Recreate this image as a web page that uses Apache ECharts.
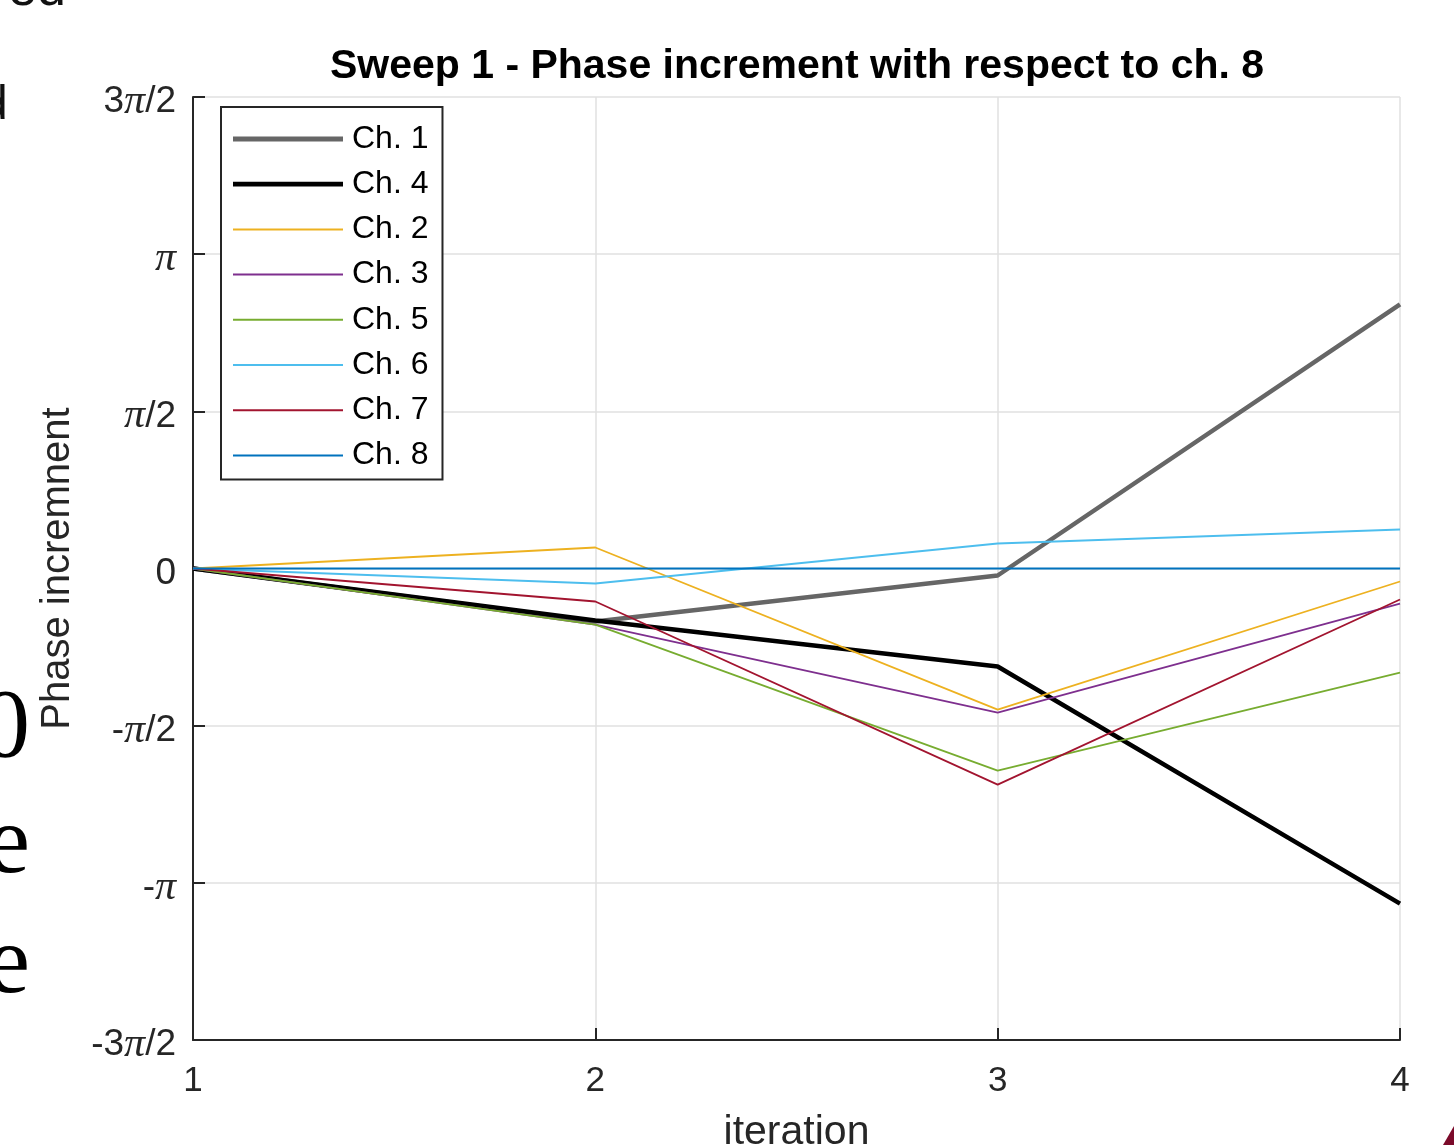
<!DOCTYPE html>
<html>
<head>
<meta charset="utf-8">
<script src="https://cdn.jsdelivr.net/npm/echarts@6/dist/echarts.min.js"></script>
<style>
html,body{margin:0;padding:0;background:#fff;}
#chart{width:1454px;height:1145px;}
</style>
</head>
<body>
<div id="chart"></div>
<script>
// ---- data (phase in radians) ----
const iterations = [1, 2, 3, 4];
const ch1 = [0, -0.53, -0.07, 2.64];
const ch4 = [0, -0.52, -0.98, -3.35];
const ch2 = [0, 0.21, -1.41, -0.13];
const ch3 = [0, -0.56, -1.44, -0.35];
const ch5 = [0, -0.56, -2.02, -1.04];
const ch6 = [0, -0.15, 0.25, 0.39];
const ch7 = [0, -0.33, -2.16, -0.31];
const ch8 = [0, 0, 0, 0];
const yTickLabels = ['-3π/2', '-π', '-π/2', '0', 'π/2', 'π', '3π/2'];
const seriesNames = ['Ch. 1', 'Ch. 4', 'Ch. 2', 'Ch. 3', 'Ch. 5', 'Ch. 6', 'Ch. 7', 'Ch. 8'];
const seriesValues = [ch1, ch4, ch2, ch3, ch5, ch6, ch7, ch8];

// ---- styling ----
const colors = ['#666666', '#000000', '#EDB120', '#7E2F8E', '#77AC30', '#4DBEEE', '#A2142F', '#0072BD'];
const widths = [4.5, 4.5, 1.8, 1.8, 1.8, 1.8, 1.8, 1.8];
const SANS = "'Liberation Sans', Arial, Helvetica, sans-serif";
const SERIF = "'Liberation Serif', 'Times New Roman', serif";
const AX = '#262626';
const GRID = '#e0e0e0';
const HALF_PI = Math.PI / 2;

const thickIcon = 'path://M0,0L0,0M0,9.6H110V14.4H0ZM110,24L110,24';
const thinIcon = 'path://M0,0L0,0M0,11H110V13H0ZM110,24L110,24';

const chart = echarts.init(document.getElementById('chart'), null, {renderer: 'canvas'});

const series = seriesNames.map((name, i) => ({
  name: name,
  type: 'line',
  data: iterations.map((x, k) => [x, seriesValues[i][k] / HALF_PI]),
  symbol: 'none',
  color: colors[i],
  lineStyle: {color: colors[i], width: widths[i]},
  z: 2 + i,
  animation: false
}));

function piLabel(s) {
  return s.replace('π', '{p|π}');
}

chart.setOption({
  animation: false,
  backgroundColor: '#ffffff',
  title: {
    text: 'Sweep 1 - Phase increment with respect to ch. 8',
    left: 797,
    textAlign: 'center',
    top: 46,
    padding: 0,
    textStyle: {fontFamily: SANS, fontWeight: 'bold', fontSize: 41, color: '#000'}
  },
  grid: {left: 193, right: 54, top: 97, bottom: 105, containLabel: false, outerBoundsMode: 'none'},
  legend: {
    left: 221,
    top: 107,
    orient: 'vertical',
    backgroundColor: '#fff',
    borderColor: AX,
    borderWidth: 2,
    borderRadius: 0,
    padding: [16, 14, 8, 12],
    itemWidth: 110,
    itemHeight: 24,
    itemGap: 13.2,
    selectedMode: false,
    textStyle: {fontFamily: SANS, fontSize: 32, color: '#000', padding: [0, 0, 0, 4]},
    data: seriesNames.map((n, i) => ({name: n, icon: i < 2 ? thickIcon : thinIcon}))
  },
  xAxis: {
    type: 'value',
    min: 1,
    max: 4,
    interval: 1,
    name: 'iteration',
    nameLocation: 'middle',
    nameGap: 72,
    nameTextStyle: {fontFamily: SANS, fontSize: 41, color: AX},
    axisLine: {show: true, onZero: false, lineStyle: {color: AX, width: 2}},
    axisTick: {show: true, inside: true, length: 12, lineStyle: {color: AX, width: 2}},
    axisLabel: {fontFamily: SANS, fontSize: 35, color: AX, margin: 24},
    splitLine: {show: true, lineStyle: {color: GRID, width: 1.5}}
  },
  yAxis: {
    type: 'value',
    min: -3,
    max: 3,
    interval: 1,
    name: 'Phase incremnent',
    nameLocation: 'middle',
    nameGap: 115,
    nameTextStyle: {fontFamily: SANS, fontSize: 40, color: AX},
    axisLine: {show: true, onZero: false, lineStyle: {color: AX, width: 2}},
    axisTick: {show: true, inside: true, length: 12, lineStyle: {color: AX, width: 2}},
    axisLabel: {
      fontFamily: SANS,
      fontSize: 37,
      color: AX,
      margin: 17,
      padding: [10, 0, 0, 0],
      formatter: function (v) {
        const idx = Math.round(v) + 3;
        return piLabel(yTickLabels[idx] || '');
      },
      rich: {
        p: {fontFamily: SERIF, fontStyle: 'italic', fontSize: 42, color: AX}
      }
    },
    splitLine: {show: true, lineStyle: {color: GRID, width: 1.5}}
  },
  graphic: [
    {type: 'text', silent: true, z: 100, style: {text: 'ed', x: 8, y: -9, fontFamily: SANS, fontSize: 52, fill: '#111', verticalAlign: 'middle'}},
    {type: 'text', silent: true, z: 100, style: {text: 'd', x: -19, y: 106, fontFamily: SANS, fontSize: 48, fill: '#111', verticalAlign: 'middle'}},
    {type: 'text', silent: true, z: 100, style: {text: '0', x: -19, y: 730, fontFamily: SERIF, fontSize: 98, fill: '#000', verticalAlign: 'middle'}},
    {type: 'text', silent: true, z: 100, style: {text: 'e', x: -13.5, y: 846, fontFamily: SERIF, fontSize: 98, fill: '#000', verticalAlign: 'middle'}},
    {type: 'text', silent: true, z: 100, style: {text: 'e', x: -13.5, y: 966, fontFamily: SERIF, fontSize: 98, fill: '#000', verticalAlign: 'middle'}},
    {type: 'polygon', silent: true, z: 100, shape: {points: [[1443, 1145], [1454, 1126], [1454, 1145]]}, style: {fill: '#7b0a2a'}}
  ],
  series: series
});
</script>
</body>
</html>
